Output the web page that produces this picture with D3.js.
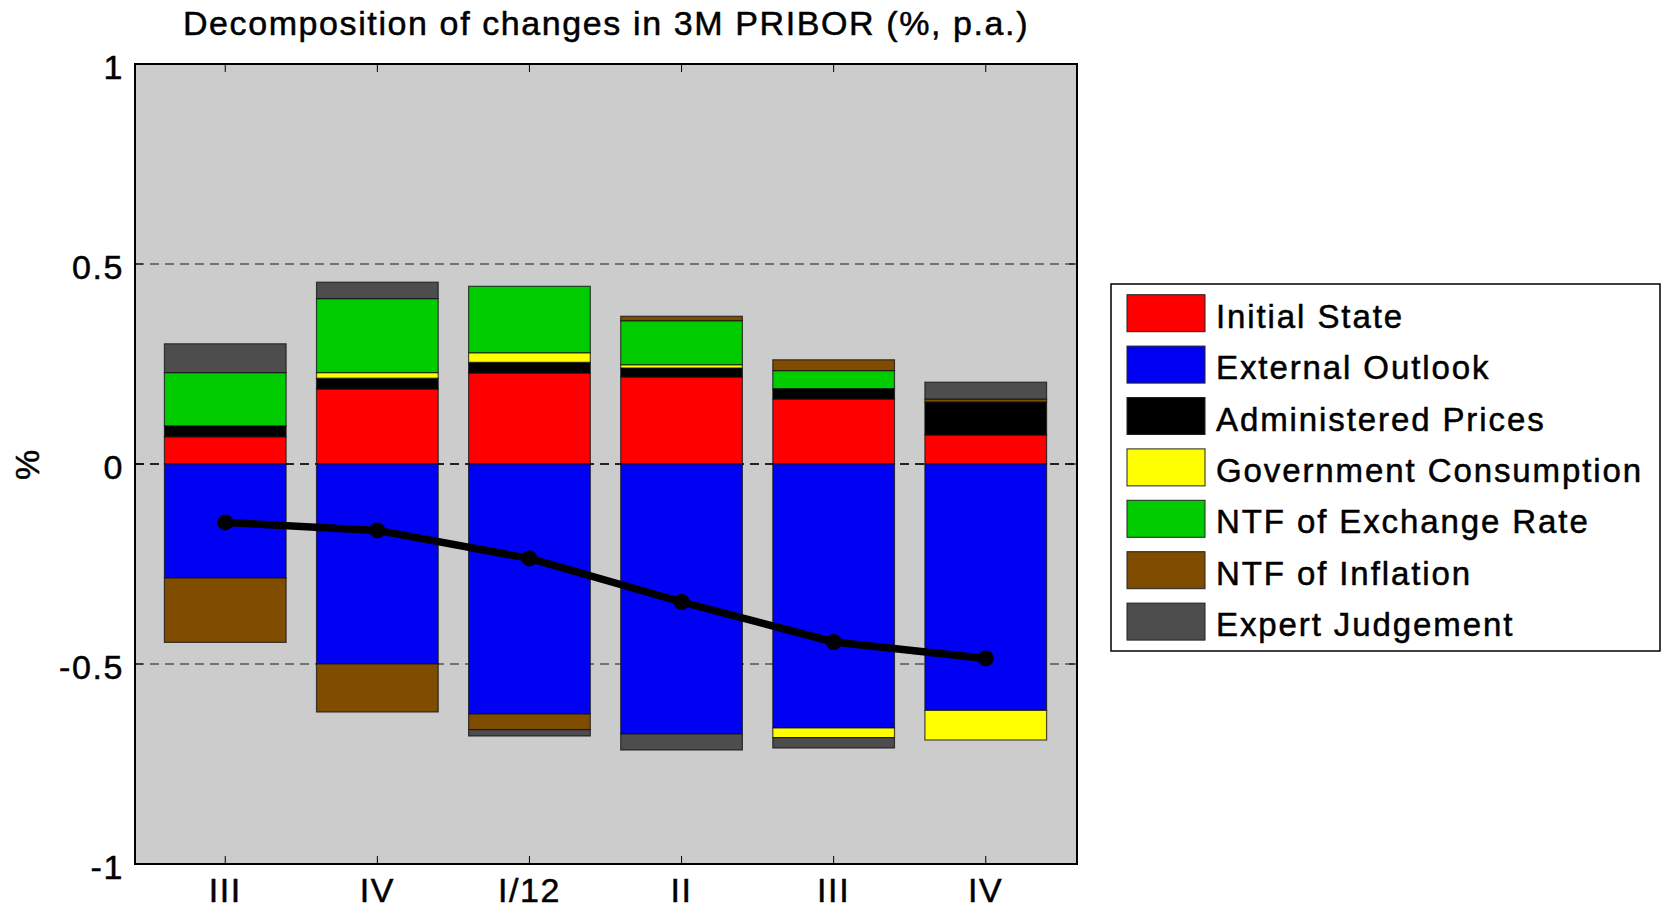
<!DOCTYPE html>
<html>
<head>
<meta charset="utf-8">
<script src="https://cdn.jsdelivr.net/npm/d3@7"></script>
<style>
  html, body { margin: 0; padding: 0; background: #ffffff; }
  svg { display: block; }
  text { font-family: "Liberation Sans", Arial, Helvetica, sans-serif; fill: #000; stroke: #000; stroke-width: 0.5px; }
</style>
</head>
<body>
<svg id="chart" width="1662" height="910"></svg>
<script>
// Quarters on the horizontal axis
const categories = ["III", "IV", "I/12", "II", "III", "IV"];

// Contributions of each factor (percentage points)
const initialState      = [0.068, 0.1875, 0.2275, 0.2175, 0.1625, 0.0725];
const externalOutlook   = [-0.285, -0.50, -0.625, -0.675, -0.66, -0.616];
const administeredPrices= [0.0275, 0.027, 0.0267, 0.0225, 0.026, 0.0825];
const governmentConsumption = [0, 0.014, 0.024, 0.0083, -0.024, -0.074];
const ntfExchangeRate   = [0.133, 0.185, 0.166, 0.11, 0.045, 0];
const ntfInflation      = [-0.161, -0.12, -0.039, 0.011, 0.027, 0.0075];
const expertJudgement   = [0.072, 0.041, -0.016, -0.04, -0.026, 0.042];

// Total change in 3M PRIBOR
const totalChange = [-0.146, -0.166, -0.236, -0.345, -0.445, -0.486];

const seriesNames = ["Initial State", "External Outlook", "Administered Prices",
  "Government Consumption", "NTF of Exchange Rate", "NTF of Inflation", "Expert Judgement"];
const seriesColors = ["#ff0000", "#0000f2", "#000000", "#ffff00", "#00cc00", "#7f4c00", "#4d4d4d"];
const seriesValues = [initialState, externalOutlook, administeredPrices,
  governmentConsumption, ntfExchangeRate, ntfInflation, expertJudgement];

const yTicks = [-1, -0.5, 0, 0.5, 1];
const yTickLabels = ["-1", "-0.5", "0", "0.5", "1"];

(function draw() {
  const svg = d3.select("#chart");
  const pL = 135, pR = 1077, pT = 64, pB = 864;

  const x = d3.scaleLinear().domain([0.4, 6.6]).range([pL - 1, pR]);
  const y = d3.scaleLinear().domain([-1, 1]).range([pB, pT]);
  const barW = x(1.8) - x(1);

  // Plot background
  svg.append("rect")
    .attr("x", pL).attr("y", pT)
    .attr("width", pR - pL).attr("height", pB - pT)
    .attr("fill", "#cccccc");

  // Dashed horizontal grid
  svg.append("g").selectAll("line")
    .data(yTicks.filter(v => v !== -1 && v !== 1))
    .join("line")
    .attr("x1", pL).attr("x2", pR)
    .attr("y1", d => y(d)).attr("y2", d => y(d))
    .attr("stroke", d => d === 0 ? "#222" : "#555")
    .attr("stroke-width", d => d === 0 ? 2 : 1.3)
    .attr("stroke-dasharray", "9,6");

  // Stack the segments: positives upward, negatives downward from zero
  const segments = [];
  categories.forEach((c, i) => {
    let pos = 0, neg = 0;
    seriesValues.forEach((vals, s) => {
      const v = vals[i];
      if (v === 0) return;
      let y0, y1;
      if (v > 0) { y0 = pos; y1 = pos + v; pos = y1; }
      else { y0 = neg; y1 = neg + v; neg = y1; }
      segments.push({ i: i + 1, s, y0, y1 });
    });
  });

  svg.append("g").selectAll("rect")
    .data(segments)
    .join("rect")
    .attr("x", d => x(d.i) - barW / 2)
    .attr("width", barW)
    .attr("y", d => y(Math.max(d.y0, d.y1)))
    .attr("height", d => Math.abs(y(d.y0) - y(d.y1)))
    .attr("fill", d => seriesColors[d.s])
    .attr("stroke", "#111")
    .attr("stroke-opacity", 0.75)
    .attr("stroke-width", 1.2);

  // Total line with markers
  const line = d3.line().x((d, i) => x(i + 1)).y(d => y(d));
  svg.append("path")
    .datum(totalChange)
    .attr("d", line)
    .attr("fill", "none")
    .attr("stroke", "#000")
    .attr("stroke-width", 7.5)
    .attr("stroke-linejoin", "round");
  svg.append("g").selectAll("circle")
    .data(totalChange)
    .join("circle")
    .attr("cx", (d, i) => x(i + 1))
    .attr("cy", d => y(d))
    .attr("r", 8)
    .attr("fill", "#000");

  // Frame
  svg.append("rect")
    .attr("x", pL).attr("y", pT)
    .attr("width", pR - pL).attr("height", pB - pT)
    .attr("fill", "none").attr("stroke", "#000").attr("stroke-width", 2);

  // Ticks on x (top and bottom, inward)
  const tk = svg.append("g");
  categories.forEach((c, i) => {
    tk.append("line").attr("x1", x(i + 1)).attr("x2", x(i + 1))
      .attr("y1", pT).attr("y2", pT + 8).attr("stroke", "#000").attr("stroke-width", 1);
    tk.append("line").attr("x1", x(i + 1)).attr("x2", x(i + 1))
      .attr("y1", pB).attr("y2", pB - 8).attr("stroke", "#000").attr("stroke-width", 1);
  });
  // Ticks on y (left and right, inward)
  yTicks.forEach(v => {
    tk.append("line").attr("x1", pL).attr("x2", pL + 8)
      .attr("y1", y(v)).attr("y2", y(v)).attr("stroke", "#000");
    tk.append("line").attr("x1", pR).attr("x2", pR - 8)
      .attr("y1", y(v)).attr("y2", y(v)).attr("stroke", "#000");
  });

  const fs = 34, ls = "1.6px";

  // X tick labels
  svg.append("g").selectAll("text")
    .data(categories)
    .join("text")
    .attr("x", (d, i) => x(i + 1))
    .attr("y", 902)
    .attr("text-anchor", "middle")
    .attr("font-size", fs)
    .style("letter-spacing", ls)
    .text(d => d);

  // Y tick labels
  svg.append("g").selectAll("text")
    .data(yTicks)
    .join("text")
    .attr("x", 124)
    .attr("y", d => y(d) + 14.5)
    .attr("text-anchor", "end")
    .attr("font-size", fs)
    .style("letter-spacing", ls)
    .text((d, i) => yTickLabels[i]);

  // Y axis title
  svg.append("text")
    .attr("transform", "translate(39,465) rotate(-90)")
    .attr("text-anchor", "middle")
    .attr("font-size", fs)
    .text("%");

  // Chart title
  svg.append("text")
    .attr("x", (pL + pR) / 2)
    .attr("y", 35)
    .attr("text-anchor", "middle")
    .attr("font-size", fs)
    .style("letter-spacing", ls)
    .text("Decomposition of changes in 3M PRIBOR (%, p.a.)");

  // Legend
  const lg = svg.append("g");
  lg.append("rect")
    .attr("x", 1111).attr("y", 284)
    .attr("width", 549).attr("height", 367)
    .attr("fill", "#fff").attr("stroke", "#000").attr("stroke-width", 1.5);
  seriesNames.forEach((name, k) => {
    const cy = 313.2 + k * 51.4;
    lg.append("rect")
      .attr("x", 1127).attr("y", cy - 18.5)
      .attr("width", 78).attr("height", 37)
      .attr("fill", seriesColors[k])
      .attr("stroke", "#222").attr("stroke-width", 1);
    lg.append("text")
      .attr("x", 1216).attr("y", cy + 14.5)
      .attr("font-size", 33)
      .style("letter-spacing", "1.9px")
      .text(name);
  });
})();
</script>
</body>
</html>
